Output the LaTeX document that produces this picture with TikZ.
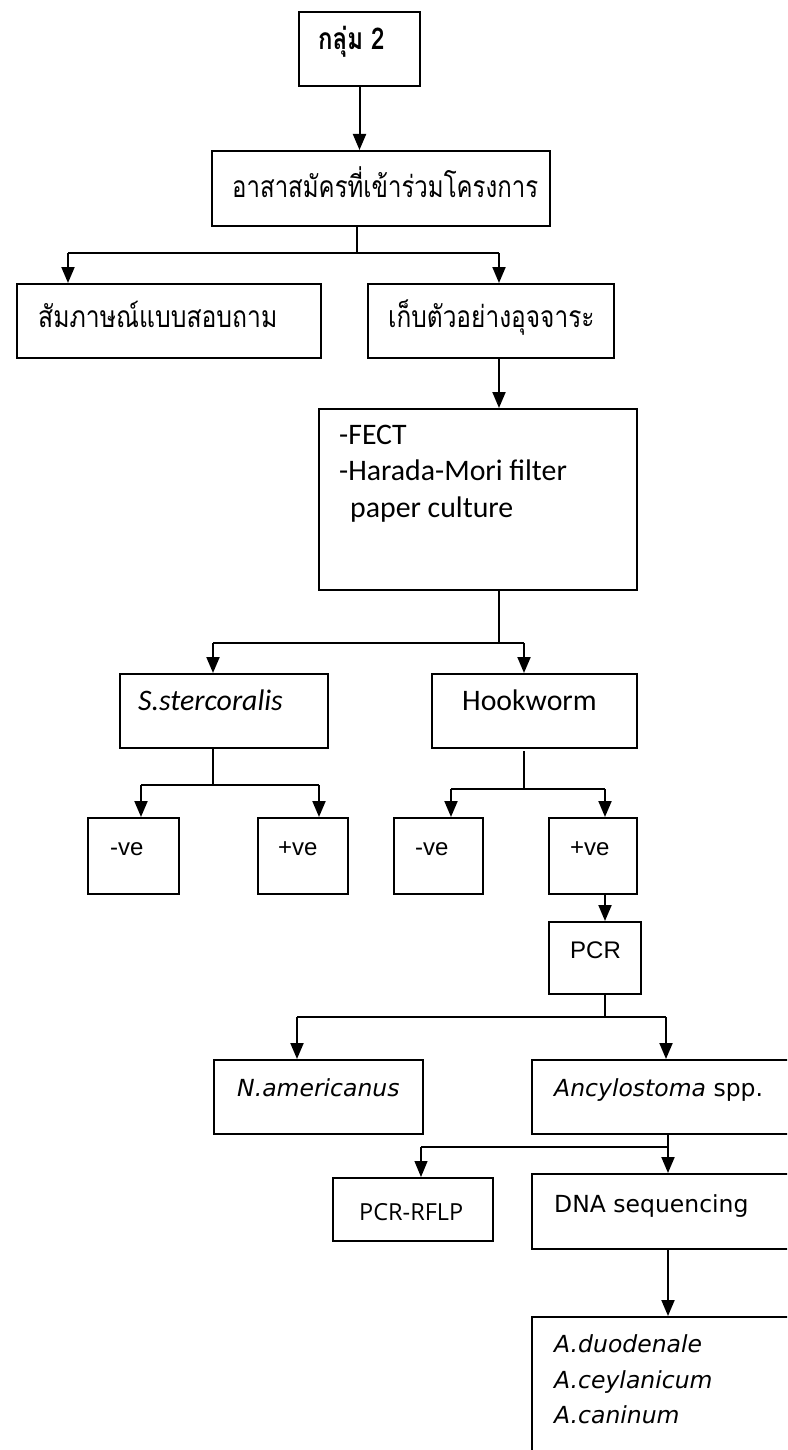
\documentclass[tikz,border=0pt]{standalone}
\usepackage{fontspec}
\usetikzlibrary{arrows.meta}
\newfontfamily\thaifont[Script=Thai]{Loma}
\newfontfamily\carl{Carlito}
\newfontfamily\djv{DejaVu Sans}
\newfontfamily\lbs{Liberation Sans}
\newfontfamily\opsans{Open Sans}
\newcommand\thx[1]{\scalebox{0.8}[1]{#1}}
\begin{document}
\begin{tikzpicture}[x=1pt,y=-1pt,
  box/.style={draw, line width=2pt, inner sep=0pt, anchor=north west},
  arr/.style={line width=2pt, -{Triangle[length=16pt,width=13pt]}},
  ln/.style={line width=2pt},
  thinln/.style={line width=1.2pt},
  lbl/.style={anchor=base west, inner sep=0pt},
  th/.style={lbl, font=\thaifont\fontsize{30}{34}\selectfont},
  thb/.style={lbl, font=\thaifont\bfseries\fontsize{30}{34}\selectfont},
  cb/.style={lbl, font=\carl\fontsize{29.8}{34}\selectfont},
  ls/.style={lbl, font=\lbs\fontsize{24}{28}\selectfont},
  dj/.style={lbl, font=\djv\fontsize{23.5}{27}\selectfont},
  os/.style={lbl, font=\opsans\fontsize{23.5}{27}\selectfont}]
\clip (0,0) rectangle (787,1450);
% boxes
\node[box, minimum width=121, minimum height=74] (g2) at (298,11) {};
\node[box, minimum width=338, minimum height=75] (vol) at (211,150) {};
\node[box, minimum width=304, minimum height=74] (int) at (16,283) {};
\node[box, minimum width=246, minimum height=74] (col) at (367,283) {};
\node[box, minimum width=318, minimum height=181] (fect) at (318,408) {};
\node[box, minimum width=208, minimum height=74] (ss) at (119,673) {};
\node[box, minimum width=205, minimum height=74] (hw) at (431,673) {};
\node[box, minimum width=91, minimum height=76] (neg1) at (87,817) {};
\node[box, minimum width=90, minimum height=76] (pos1) at (257,817) {};
\node[box, minimum width=89, minimum height=76] (neg2) at (393,817) {};
\node[box, minimum width=88, minimum height=76] (pos2) at (548,817) {};
\node[box, minimum width=92, minimum height=72] (pcr) at (548,921) {};
\node[box, minimum width=209, minimum height=74] (nam) at (213,1059) {};
\node[box, minimum width=280, minimum height=74] (anc) at (531,1059) {};
\node[box, minimum width=160, minimum height=63] (rflp) at (332,1177) {};
\node[box, minimum width=280, minimum height=75] (dna) at (531,1173) {};
\node[box, minimum width=280, minimum height=160] (adu) at (531,1316) {};
% texts
\node[thb] (tg2) at (318,50) {\thx{กลุ่ม 2}};
\node[th] (tvol) at (232,197) {\thx{อาสาสมัครที่เข้าร่วมโครงการ}};
\node[th] (tint) at (38,327) {\scalebox{0.825}[1]{สัมภาษณ์แบบสอบถาม}};
\node[th] (tcol) at (388,327) {\scalebox{0.815}[1]{เก็บตัวอย่างอุจจาระ}};
\node[cb] (tf1) at (339,444) {-FECT};
\node[cb] (tf2) at (339,480) {-Harada-Mori filter};
\node[cb] (tf3) at (350,517) {paper culture};
\node[cb] (tss) at (138,710) {\itshape S.stercoralis};
\node[cb] (thw) at (462,710) {Hookworm};
\node[ls] (tn1) at (110,855) {-ve};
\node[ls] (tp1) at (278,855) {+ve};
\node[ls] (tn2) at (415,855) {-ve};
\node[ls] (tp2) at (570,855) {+ve};
\node[ls] (tpcr) at (570,958) {PCR};
\node[dj] (tnam) at (237,1096) {\itshape N.americanus};
\node[dj] (tanc) at (554,1096) {\itshape Ancylostoma\upshape\ spp.};
\node[os] (trf) at (359,1220) {PCR-RFLP};
\node[dj] (tdna) at (554,1212) {DNA sequencing};
\node[dj] (ta1) at (554,1352) {\itshape A.duodenale};
\node[dj] (ta2) at (554,1388) {\itshape A.ceylanicum};
\node[dj] (ta3) at (554,1423) {\itshape A.caninum};
% junction coordinates
\coordinate (j1) at (357,253); \coordinate (j1l) at (68,253); \coordinate (j1r) at (499,253);
\coordinate (j2) at (499,643); \coordinate (j2l) at (213,643); \coordinate (j2r) at (524,643);
\coordinate (j3) at (213,785); \coordinate (j3l) at (141,785); \coordinate (j3r) at (319,785);
\coordinate (j4t) at (524,751); \coordinate (j4) at (524,789); \coordinate (j4l) at (451,789); \coordinate (j4r) at (605,789);
\coordinate (j5) at (605,1017); \coordinate (j5l) at (297,1017); \coordinate (j5r) at (666,1017);
\coordinate (j6) at (668,1147); \coordinate (j6l) at (421,1147);
% connectors
\draw[arr] (g2.south) -- (g2.south |- vol.north);
\draw[ln] (vol.south -| j1) -- (j1);
\draw[ln] (j1l) -- (j1r);
\draw[arr] (j1l) -- (j1l |- int.north);
\draw[arr] (j1r) -- (j1r |- col.north);
\draw[arr] (col.south -| j1r) -- (fect.north -| j1r);
\draw[ln] (fect.south -| j2) -- (j2);
\draw[ln] (j2l) -- (j2r);
\draw[arr] (j2l) -- (j2l |- ss.north);
\draw[arr] (j2r) -- (j2r |- hw.north);
\draw[ln] (ss.south -| j3) -- (j3);
\draw[ln] (j3l) -- (j3r);
\draw[arr] (j3l) -- (j3l |- neg1.north);
\draw[arr] (j3r) -- (j3r |- pos1.north);
\draw[ln] (j4t) -- (j4);
\draw[ln] (j4l) -- (j4r);
\draw[arr] (j4l) -- (j4l |- neg2.north);
\draw[arr] (j4r) -- (j4r |- pos2.north);
\draw[arr] (pos2.south -| j4r) -- (pcr.north -| j4r);
\draw[ln] (pcr.south -| j5) -- (j5);
\draw[ln] (j5l) -- (j5r);
\draw[arr] (j5l) -- (j5l |- nam.north);
\draw[arr] (j5r) -- (j5r |- anc.north);
\draw[arr] (anc.south -| j6) -- (dna.north -| j6);
\draw[thinln] (j6) -- (j6l);
\draw[arr, line width=1.2pt] (j6l) -- (rflp.north -| j6l);
\draw[arr] (dna.south -| j6) -- (adu.north -| j6);
\end{tikzpicture}
\end{document}
